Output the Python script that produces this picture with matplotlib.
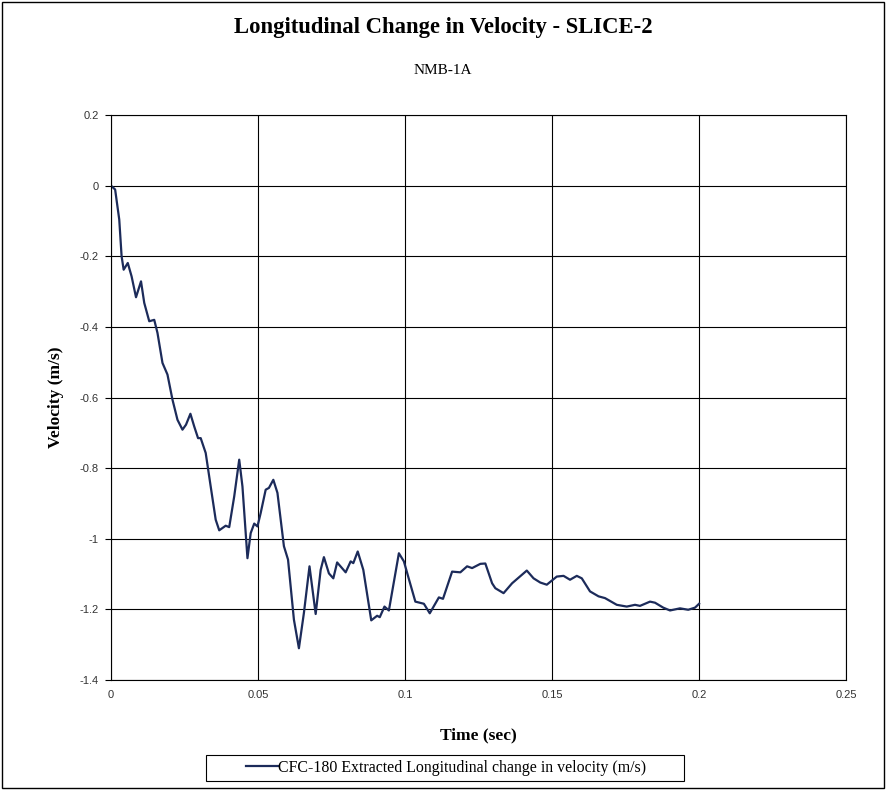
"""
Longitudinal change in velocity, SLICE-2 (NMB-1A).
"""

import matplotlib
matplotlib.use("Agg")
import matplotlib.pyplot as plt
import matplotlib.patches as mpatches
from matplotlib.ticker import FuncFormatter

# Values (time in sec, velocity in m/s)
time_s = [
    0.0000, 0.0014, 0.0028, 0.0036, 0.0043, 0.0057, 0.0070, 0.0085, 0.0102, 0.0113,
    0.0130, 0.0147, 0.0158, 0.0175, 0.0192, 0.0209, 0.0226, 0.0243, 0.0255, 0.0270,
    0.0283, 0.0296, 0.0305, 0.0322, 0.0339, 0.0356, 0.0368, 0.0390, 0.0402, 0.0419,
    0.0436, 0.0447, 0.0464, 0.0475, 0.0487, 0.0498, 0.0509, 0.0526, 0.0537, 0.0552,
    0.0566, 0.0588, 0.0602, 0.0622, 0.0639, 0.0656, 0.0675, 0.0696, 0.0713, 0.0724,
    0.0741, 0.0756, 0.0769, 0.0798, 0.0815, 0.0824, 0.0839, 0.0858, 0.0885, 0.0905,
    0.0914, 0.0930, 0.0945, 0.0979, 0.0996, 0.1013, 0.1035, 0.1064, 0.1084, 0.1115,
    0.1129, 0.1160, 0.1188, 0.1211, 0.1228, 0.1256, 0.1273, 0.1296, 0.1307, 0.1335,
    0.1364, 0.1414, 0.1437, 0.1460, 0.1482, 0.1516, 0.1539, 0.1561, 0.1584, 0.1601,
    0.1629, 0.1658, 0.1680, 0.1720, 0.1754, 0.1782, 0.1799, 0.1833, 0.1850, 0.1878,
    0.1901, 0.1935, 0.1963, 0.1986, 0.2000,
]
velocity = [
    0.000, -0.011, -0.096, -0.200, -0.238, -0.219, -0.257, -0.316, -0.271, -0.332,
    -0.384, -0.380, -0.417, -0.502, -0.535, -0.606, -0.663, -0.691, -0.677, -0.646,
    -0.682, -0.715, -0.715, -0.757, -0.852, -0.946, -0.976, -0.963, -0.967, -0.880,
    -0.776, -0.852, -1.055, -0.984, -0.957, -0.965, -0.927, -0.861, -0.856, -0.833,
    -0.870, -1.021, -1.059, -1.229, -1.310, -1.210, -1.078, -1.213, -1.088, -1.052,
    -1.098, -1.112, -1.067, -1.095, -1.064, -1.069, -1.036, -1.088, -1.231, -1.218,
    -1.222, -1.192, -1.203, -1.041, -1.064, -1.114, -1.178, -1.184, -1.211, -1.166,
    -1.170, -1.093, -1.095, -1.078, -1.083, -1.071, -1.070, -1.126, -1.140, -1.154,
    -1.126, -1.090, -1.112, -1.124, -1.130, -1.107, -1.105, -1.116, -1.105, -1.112,
    -1.149, -1.163, -1.168, -1.187, -1.192, -1.187, -1.190, -1.178, -1.181, -1.195,
    -1.203, -1.197, -1.201, -1.195, -1.184,
]

x_ticks = [0, 0.05, 0.1, 0.15, 0.2, 0.25]
y_ticks = [0.2, 0, -0.2, -0.4, -0.6, -0.8, -1, -1.2, -1.4]

title = "Longitudinal Change in Velocity - SLICE-2"
subtitle = "NMB-1A"
series_label = "CFC-180 Extracted Longitudinal change in velocity (m/s)"

serif = "Liberation Serif"
sans = "Liberation Sans"
line_color = "#1c2b5a"

fig = plt.figure(figsize=(8.86, 7.90), dpi=100)
ax = fig.add_axes([0.1253, 0.1392, 0.8297, 0.7152])

ax.plot(time_s, velocity, color=line_color, linewidth=1.6,
        solid_joinstyle="round", label=series_label)

ax.set_xlim(0, 0.25)
ax.set_ylim(-1.4, 0.2)
ax.set_xticks(x_ticks)
ax.set_yticks(y_ticks)
fmt = FuncFormatter(lambda v, pos: f"{v:g}")
ax.xaxis.set_major_formatter(fmt)
ax.yaxis.set_major_formatter(fmt)
ax.tick_params(axis="y", direction="out", length=4, width=0.8, pad=5,
               labelsize=8, labelcolor="#333333")
ax.tick_params(axis="x", length=0, pad=7, labelsize=8, labelcolor="#333333")
for lbl in ax.get_xticklabels() + ax.get_yticklabels():
    lbl.set_fontfamily(sans)

ax.grid(True, color="black", linewidth=0.8)
for spine in ax.spines.values():
    spine.set_color("black")
    spine.set_linewidth(0.8)

ax.set_xlabel("Time (sec)", fontfamily=serif, fontweight="bold",
              fontsize=12.5, labelpad=20)
ax.set_ylabel("Velocity (m/s)", fontfamily=serif, fontweight="bold",
              fontsize=12.5, labelpad=11)

fig.text(0.5, 1 - 28 / 790, title, ha="center", va="center",
         fontfamily=serif, fontweight="bold", fontsize=16.3)
fig.text(0.5, 1 - 70 / 790, subtitle, ha="center", va="center",
         fontfamily=serif, fontsize=11)

# legend: wide, flat box below the axis title
leg = fig.legend(loc="center", bbox_to_anchor=(446 / 886, 1 - 768 / 790),
                 prop={"family": serif, "size": 11.4}, frameon=False,
                 handlelength=2.0, handletextpad=0.0, borderpad=0.2)
fig.patches.append(mpatches.Rectangle((206 / 886, 1 - 781 / 790),
                                      478 / 886, 26 / 790,
                                      transform=fig.transFigure, fill=False,
                                      edgecolor="black", linewidth=0.8))

# outer chart border
fig.patches.append(mpatches.Rectangle((0.002, 0.002), 0.996, 0.996,
                                      transform=fig.transFigure, fill=False,
                                      edgecolor="black", linewidth=1.0))

fig.savefig("out.png", dpi=100, facecolor="white")
